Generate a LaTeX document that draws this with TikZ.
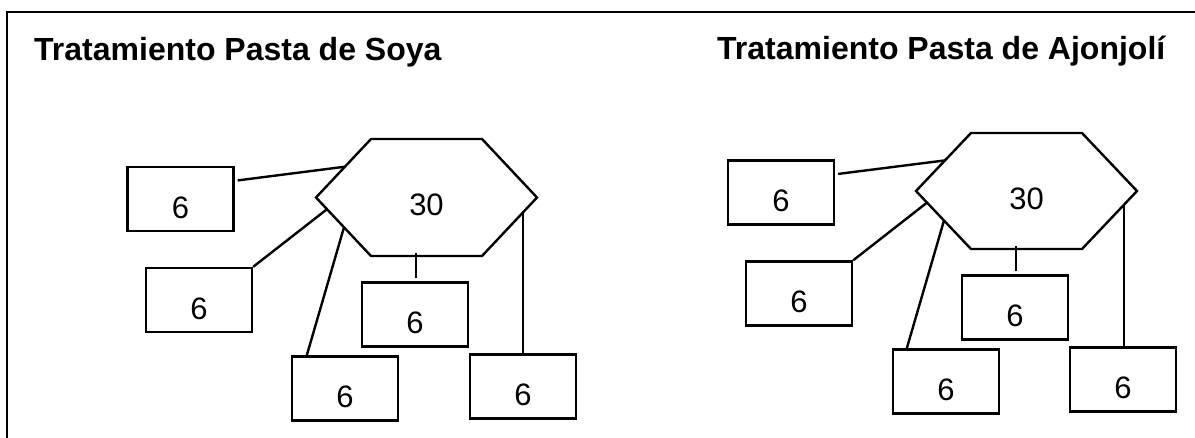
\documentclass[tikz,border=0pt]{standalone}
\usepackage{fontspec}
\setmainfont{Liberation Sans}
\usetikzlibrary{calc}
\begin{document}
\begin{tikzpicture}[x=1pt,y=-1pt,line width=2.4pt,
  title/.style={anchor=base west,inner sep=0pt,font=\bfseries\fontsize{32}{38}\selectfont},
  box/.style={draw,line width=2.4pt,minimum width=106pt,minimum height=64pt,inner sep=0pt,
    text height=38pt,text depth=0pt,font=\fontsize{31}{36}\selectfont},
  hexlabel/.style={inner sep=0pt,font=\fontsize{31}{36}\selectfont},
  hexline/.style={line width=2.4pt,line join=miter},
  link/.style={line width=2.4pt},
  frame/.style={line width=2.4pt}]
\useasboundingbox (0,0) rectangle (1195,437);
% frame
\coordinate (fTR) at (1196,12);
\coordinate (fTL) at (7,12);
\coordinate (fBL) at (7,438);
\draw[frame] (fTR) -- (fTL) -- (fBL);
% titles
\node[title] (t1) at (33,60) {Tratamiento Pasta de Soya};
\node[title] (t2) at (716,59) {Tratamiento Pasta de Ajonjolí};
% ---------- left diagram ----------
\draw[hexline] (316,197.5) -- (371,139) -- (482,139) -- (537,197.5) -- (482,256) -- (371,256) -- cycle;
\node[hexlabel] (h1) at (426.5,205) {30};
\node[box] (A1) at (180.5,199) {6};
\node[box] (B1) at (199,300) {6};
\node[box] (C1) at (415,314.5) {6};
\node[box] (D1) at (345,388.5) {6};
\node[box] (E1) at (523,386.5) {6};
\coordinate (h1a) at (345,166.7);
\coordinate (h1b) at (327,209.2);
\coordinate (h1d) at (344,227.3);
\coordinate (h1c) at (416,253);
\coordinate (h1e) at (523,211.3);
\draw[link] ($(A1.north east)!0.22!(A1.south east)+(3,0)$) -- (h1a);
\draw[link] (B1.north east) -- (h1b);
\draw[link] ($(D1.north west)+(16,0)$) -- (h1d);
\draw[link] ($(C1.north)+(1,-3)$) -- (h1c);
\draw[link] (E1.north) -- (h1e);
% ---------- right diagram ----------
\draw[hexline] (916,191) -- (971,133) -- (1082,133) -- (1137,191) -- (1082,249) -- (971,249) -- cycle;
\node[hexlabel] (h2) at (1026.5,199) {30};
\node[box] (A2) at (781,192.5) {6};
\node[box] (B2) at (799,293.5) {6};
\node[box] (C2) at (1015,307.5) {6};
\node[box] (D2) at (946,381.5) {6};
\node[box] (E2) at (1123,379.5) {6};
\coordinate (h2a) at (945,160.4);
\coordinate (h2b) at (927,202.6);
\coordinate (h2d) at (944,220.5);
\coordinate (h2c) at (1016,246);
\coordinate (h2e) at (1124,204.7);
\draw[link] ($(A2.north east)!0.22!(A2.south east)+(3,0)$) -- (h2a);
\draw[link] (B2.north east) -- (h2b);
\draw[link] ($(D2.north west)+(15,0)$) -- (h2d);
\draw[link] ($(C2.north)+(1,-3)$) -- (h2c);
\draw[link] ($(E2.north)+(1,0)$) -- (h2e);
\end{tikzpicture}
\end{document}
